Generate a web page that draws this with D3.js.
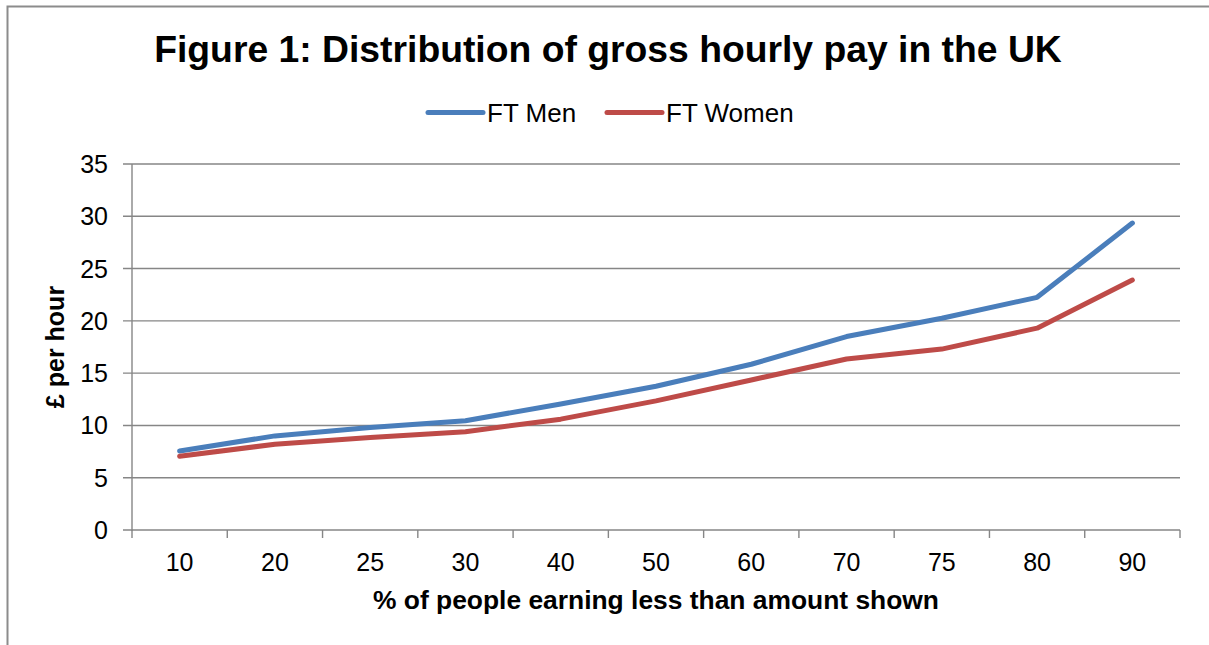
<!DOCTYPE html>
<html>
<head>
<meta charset="utf-8">
<script src="https://cdn.jsdelivr.net/npm/d3@7"></script>
<style>
  body { margin: 0; background: #fff; }
  svg { display: block; font-family: "Liberation Sans", Arial, sans-serif; }
</style>
</head>
<body>
<div id="chart"></div>
<script>
// percentile categories and pay (GBP per hour)
const categories = ['10', '20', '25', '30', '40', '50', '60', '70', '75', '80', '90'];
const ftMen = [7.55, 9.0, 9.8, 10.45, 12.05, 13.75, 15.85, 18.5, 20.25, 22.25, 29.35];
const ftWomen = [7.05, 8.2, 8.85, 9.4, 10.6, 12.35, 14.35, 16.35, 17.3, 19.3, 23.9];
const yTicks = [0, 5, 10, 15, 20, 25, 30, 35];

const series = [
    { name: 'FT Men', values: ftMen, color: '#4a7ebb' },
    { name: 'FT Women', values: ftWomen, color: '#be4b48' }
];

const width = 1209, height = 645;
const plot = { left: 132, right: 1180, top: 164, bottom: 530 };
const axisColor = '#868686';

const svg = d3.select('#chart')
    .append('svg')
    .attr('width', width)
    .attr('height', height);

// chart frame (top + left edge visible)
svg.append('path')
    .attr('d', `M7.5,${height} V6.5 H${width}`)
    .attr('fill', 'none')
    .attr('stroke', '#8c8c8c')
    .attr('stroke-width', 2);

const x = d3.scaleBand()
    .domain(categories)
    .range([plot.left, plot.right])
    .padding(0);

const y = d3.scaleLinear()
    .domain([0, 35])
    .range([plot.bottom, plot.top]);

// gridlines
svg.append('g')
    .selectAll('line')
    .data(yTicks)
    .join('line')
    .attr('x1', plot.left - 9)
    .attr('x2', plot.right)
    .attr('y1', d => y(d))
    .attr('y2', d => y(d))
    .attr('stroke', axisColor)
    .attr('stroke-width', 1.4);

// y axis line
svg.append('line')
    .attr('x1', plot.left).attr('x2', plot.left)
    .attr('y1', plot.top).attr('y2', plot.bottom + 1)
    .attr('stroke', axisColor)
    .attr('stroke-width', 1.4);

// x tick marks at category boundaries
const bounds = categories.map(c => x(c)).concat([x(categories[categories.length - 1]) + x.bandwidth()]);
svg.append('g')
    .selectAll('line')
    .data(bounds)
    .join('line')
    .attr('x1', d => d).attr('x2', d => d)
    .attr('y1', plot.bottom)
    .attr('y2', plot.bottom + 8)
    .attr('stroke', axisColor)
    .attr('stroke-width', 1.4);

// y tick labels
svg.append('g')
    .selectAll('text')
    .data(yTicks)
    .join('text')
    .attr('x', 108)
    .attr('y', d => y(d))
    .attr('dy', '0.36em')
    .attr('text-anchor', 'end')
    .attr('font-size', 25)
    .attr('fill', '#000')
    .text(d => d);

// x tick labels
svg.append('g')
    .selectAll('text')
    .data(categories)
    .join('text')
    .attr('x', d => x(d) + x.bandwidth() / 2)
    .attr('y', 571)
    .attr('text-anchor', 'middle')
    .attr('font-size', 25)
    .attr('fill', '#000')
    .text(d => d);

// lines
const line = d3.line()
    .x((d, i) => x(categories[i]) + x.bandwidth() / 2)
    .y(d => y(d));

svg.append('g')
    .selectAll('path')
    .data(series)
    .join('path')
    .attr('d', d => line(d.values))
    .attr('fill', 'none')
    .attr('stroke', d => d.color)
    .attr('stroke-width', 5)
    .attr('stroke-linecap', 'round')
    .attr('stroke-linejoin', 'round');

// title
svg.append('text')
    .attr('x', 608)
    .attr('y', 62)
    .attr('text-anchor', 'middle')
    .attr('font-size', 37.3)
    .attr('font-weight', 'bold')
    .text('Figure 1: Distribution of gross hourly pay in the UK');

// legend
const legendX = [428, 607];
const legend = svg.append('g')
    .selectAll('g')
    .data(series)
    .join('g')
    .attr('transform', (d, i) => `translate(${legendX[i]},112.5)`);
legend.append('line')
    .attr('x1', 0).attr('x2', 55)
    .attr('stroke', d => d.color)
    .attr('stroke-width', 5)
    .attr('stroke-linecap', 'round');
legend.append('text')
    .attr('x', 59)
    .attr('dy', '0.36em')
    .attr('font-size', 26)
    .text(d => d.name);

// axis titles
svg.append('text')
    .attr('x', (plot.left + plot.right) / 2)
    .attr('y', 609)
    .attr('text-anchor', 'middle')
    .attr('font-size', 26.4)
    .attr('font-weight', 'bold')
    .text('% of people earning less than amount shown');

svg.append('text')
    .attr('transform', `translate(64,${(plot.top + plot.bottom) / 2}) rotate(-90)`)
    .attr('text-anchor', 'middle')
    .attr('font-size', 25)
    .attr('font-weight', 'bold')
    .text('£ per hour');
</script>
</body>
</html>
